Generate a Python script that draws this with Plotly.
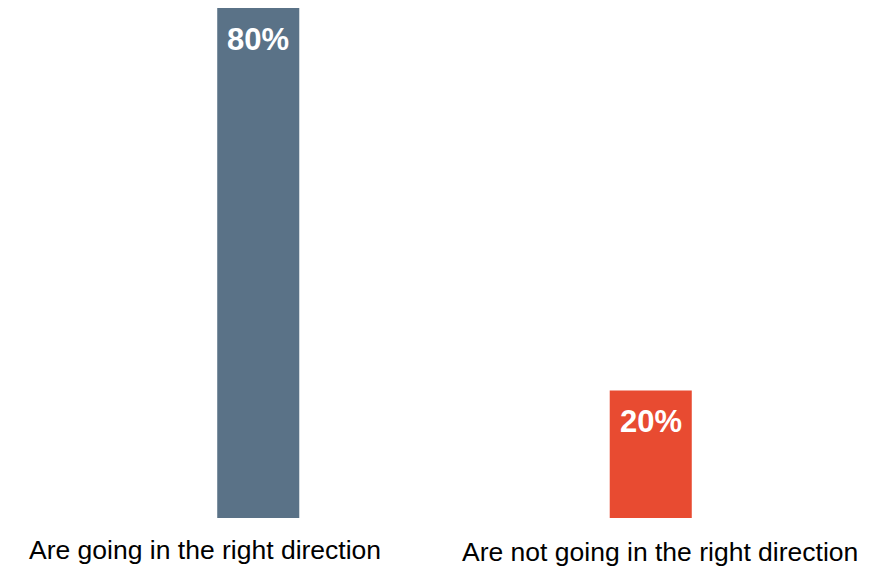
import plotly.graph_objects as go

categories = ["Are going in the right direction", "Are not going in the right direction"]
values = [80, 20]
labels = ["80%", "20%"]
colors = ["#5A7287", "#E84B31"]

fig = go.Figure()
fig.add_trace(go.Bar(
    x=[0, 1], y=values,
    marker=dict(color=colors, line=dict(width=0)),
    width=0.209,
    hoverinfo="skip",
))

for i, (v, t) in enumerate(zip(values, labels)):
    fig.add_annotation(x=i, y=v, xref="x", yref="y", text="<b>%s</b>" % t, showarrow=False,
                       yanchor="middle", xanchor="center", yshift=-31,
                       font=dict(family="Liberation Sans, Arial, sans-serif", size=31, color="white"))

label_shifts = [-53, 9.5]
label_y = [-0.0627, -0.0667]
for i, (c, s, yy) in enumerate(zip(categories, label_shifts, label_y)):
    fig.add_annotation(x=i, y=yy, xref="x", yref="paper", text=c, showarrow=False,
                       xshift=s, yanchor="middle", xanchor="center",
                       font=dict(family="Liberation Sans, Arial, sans-serif", size=26.5, color="black"))

fig.update_layout(
    width=871, height=570,
    margin=dict(l=53.5, r=31.5, t=0, b=60),
    paper_bgcolor="white", plot_bgcolor="white",
    showlegend=False,
    xaxis=dict(range=[-0.5, 1.5], visible=False),
    yaxis=dict(range=[0, 80], visible=False),
)
fig.write_html("out.html")
